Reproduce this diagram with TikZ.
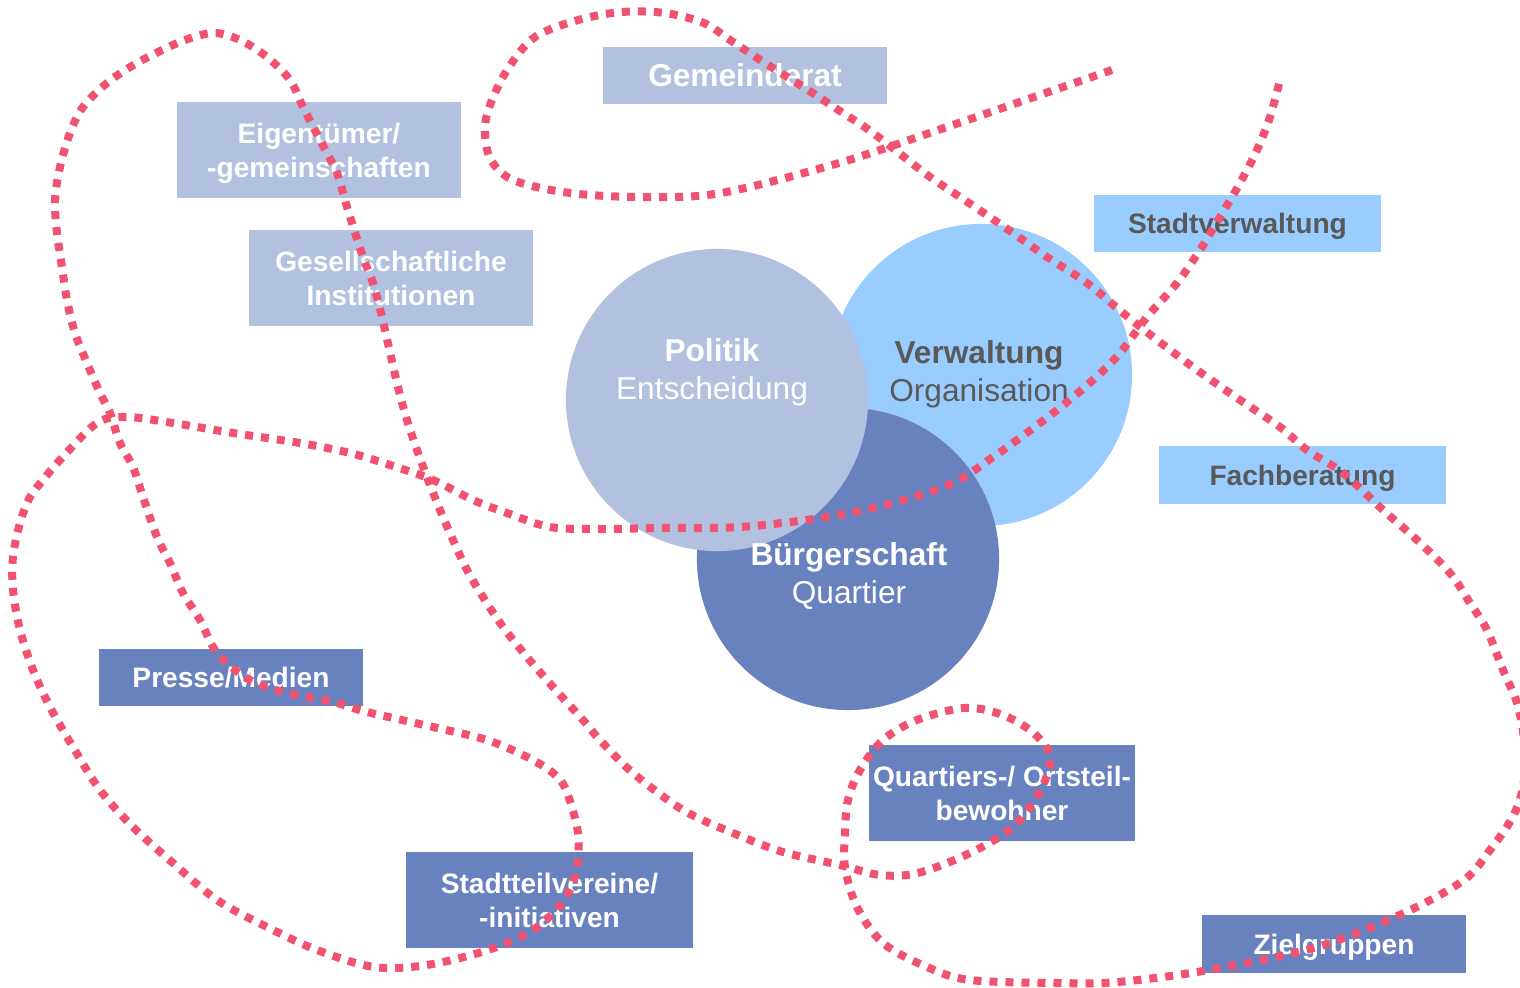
\documentclass[tikz,border=0pt]{standalone}
\usepackage{fontspec}
\setmainfont{Liberation Sans}
\usepackage{tikz}

\definecolor{politikblau}{RGB}{178,193,223}
\definecolor{verwaltungblau}{RGB}{153,204,255}
\definecolor{buergerblau}{RGB}{103,130,191}
\definecolor{grenzrot}{RGB}{240,82,112}
\definecolor{schriftgrau}{RGB}{89,89,89}

\tikzset{
  kreis/.style={circle, inner sep=0pt, minimum size=3.02cm},
  kreistext/.style={align=center, inner sep=0pt, font=\fontsize{9}{10.8}\selectfont},
  feld/.style={rectangle, inner sep=0pt, align=center, minimum height=0.57cm, text depth=0pt,
    font=\fontsize{8}{9.7}\selectfont\bfseries},
  grenze/.style={grenzrot, line width=0.08cm, dash pattern=on 0.08cm off 0.08cm}
}

\begin{document}
\begin{tikzpicture}[x=0.01cm, y=-0.01cm]
\useasboundingbox (0,0) rectangle (1520,987);
\clip (0,0) rectangle (1520,987);

% die drei Kreise
\node[kreis, fill=verwaltungblau] (verwaltung) at (981,375) {};
\node[kreis, fill=buergerblau] (buergerschaft) at (848,559) {};
\node[kreis, fill=politikblau] (politik) at (717,400) {};
\node[kreistext, text=white] (politiktext) at (712,372) {\textbf{Politik}\\Entscheidung};
\node[kreistext, text=schriftgrau] (verwaltungtext) at (979,374) {\textbf{Verwaltung}\\Organisation};
\node[kreistext, text=white] (buergertext) at (849,576) {\textbf{Bürgerschaft}\\Quartier};

% Felder
\node[feld, fill=politikblau, text=white, minimum width=2.84cm, font=\fontsize{9}{10.8}\selectfont\bfseries] (gemeinderat) at (745,75.5) {Gemeinderat};
\node[feld, fill=politikblau, text=white, minimum width=2.84cm, minimum height=0.96cm] (eigentuemer) at (319,150) {Eigentümer/\\-gemeinschaften};
\node[feld, fill=politikblau, text=white, minimum width=2.84cm, minimum height=0.96cm] (institutionen) at (391,278) {Gesellschaftliche\\Institutionen};
\node[feld, fill=verwaltungblau, text=schriftgrau, minimum width=2.87cm] (stadtverwaltung) at (1237.5,223.5) {Stadtverwaltung};
\node[feld, fill=verwaltungblau, text=schriftgrau, minimum width=2.87cm, minimum height=0.58cm] (fachberatung) at (1302.5,475) {Fachberatung};
\node[feld, fill=buergerblau, text=white, minimum width=2.64cm] (presse) at (231,677.5) {Presse/Medien};
\node[feld, fill=buergerblau, text=white, minimum width=2.87cm, minimum height=0.96cm] (stadtteil) at (549.5,900) {Stadtteilvereine/\\-initiativen};
\node[feld, fill=buergerblau, text=white, minimum width=2.66cm, minimum height=0.96cm] (bewohner) at (1002,793) {Quartiers-/ Ortsteil-\\bewohner};
\node[feld, fill=buergerblau, text=white, minimum width=2.64cm, minimum height=0.58cm] (zielgruppen) at (1334,944) {Zielgruppen};

% gepunktete Grenzlinie
\draw[grenze] plot[smooth, tension=0.55] coordinates {
  (1112,70) (1034,97) (947,127) (839,163) (721,193) (643,197) (570,193) (513,180)
  (490,158) (485,127) (492,100) (509,67) (535,37) (578,20) (622,12) (665,13)
  (704,23) (730,40) (765,63) (808,90) (843,113) (869,130) (899,153) (930,177)
  (969,203) (1013,233) (1047,257) (1087,283) (1123,313) (1157,340) (1197,370)
  (1240,400) (1280,427) (1307,450) (1343,473) (1383,510) (1417,540) (1450,573)
  (1470,603) (1487,630) (1503,670) (1517,703) (1524,740) (1524,780) (1518,805)
  (1508,825) (1490,850) (1464,880) (1404,913) (1317,947) (1209,970) (1118,982)
  (1057,983) (970,980) (927,967) (883,943) (857,907) (845,867) (845,833)
  (848,800) (860,770) (883,740) (917,720) (964,708) (1000,714) (1030,730)
  (1048,750) (1050,765) (1039,793) (1013,827) (970,853) (918,873) (880,875)
  (840,865) (783,852) (733,833) (683,810) (633,773) (600,740) (583,720)
  (553,687) (527,657) (503,627) (483,597) (467,570) (453,540) (440,510)
  (427,477) (417,450) (407,420) (397,383) (382,317) (373,283) (363,257)
  (347,207) (337,173) (320,140) (303,107) (290,80) (267,57) (240,40) (213,33)
  (180,42) (137,63) (107,83) (83,107) (70,133) (60,167) (55,200) (57,233)
  (62,267) (67,300) (75,333) (87,363) (100,393) (110,413) (120,443) (133,467)
  (143,497) (157,537) (170,563) (183,593) (200,620) (213,647) (227,663)
  (250,680) (283,692) (333,702) (367,712) (433,727) (487,740) (527,757)
  (553,773) (566,790) (578,833) (576,873) (562,903) (533,930) (488,950)
  (427,965) (374,967) (317,950) (267,927) (217,900) (173,863) (133,827)
  (100,790) (73,747) (50,707) (33,670) (20,630) (13,590) (13,557) (20,523)
  (30,497) (43,480) (60,460) (97,423) (127,417) (173,423) (233,433) (300,443)
  (350,453) (390,465) (433,480) (473,500) (507,513) (550,527) (600,529)
  (660,528) (740,527) (827,517) (893,503) (953,483) (993,457) (1013,443)
  (1057,410) (1093,380) (1120,353) (1147,317) (1177,283) (1200,250) (1220,217)
  (1240,183) (1257,150) (1270,117) (1280,80)};
\end{tikzpicture}
\end{document}
